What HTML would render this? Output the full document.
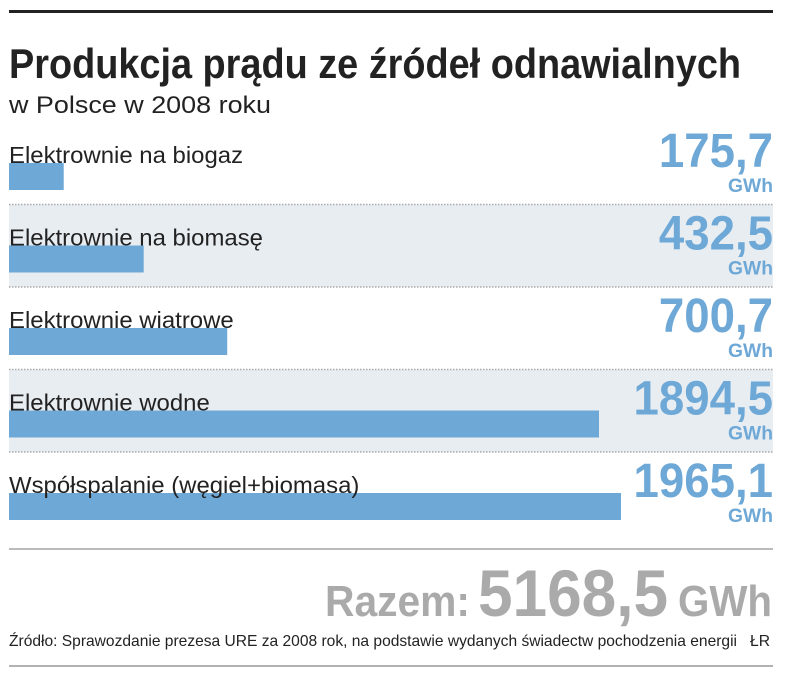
<!DOCTYPE html>
<html><head><meta charset="utf-8"><style>
html,body{margin:0;padding:0;background:#fff;width:805px;height:691px;overflow:hidden}
svg{display:block}
text{font-family:"Liberation Sans Narrow","Liberation Sans",sans-serif}
</style></head><body>
<svg id="chart" width="805" height="691" viewBox="0 0 805 691">
<rect x="9" y="10" width="764" height="3" fill="#222"/>
<text x="9" y="78" font-size="42" font-weight="bold" fill="#222" textLength="732" lengthAdjust="spacingAndGlyphs">Produkcja prądu ze źródeł odnawialnych</text>
<text x="9" y="113" font-size="24" fill="#222" textLength="262" lengthAdjust="spacingAndGlyphs">w Polsce w 2008 roku</text>
<g id="rows"></g>
<line x1="9" y1="549" x2="773" y2="549" stroke="#bbb" stroke-width="2"/>
<g fill="#aaa" font-weight="bold">
<text x="325" y="616" font-size="44" textLength="145" lengthAdjust="spacingAndGlyphs">Razem:</text>
<text x="478" y="616" font-size="66" textLength="190" lengthAdjust="spacingAndGlyphs">5168,5</text>
<text x="678" y="616" font-size="44" textLength="94" lengthAdjust="spacingAndGlyphs">GWh</text>
</g>
<text x="9" y="646" font-size="16" fill="#222" textLength="728" lengthAdjust="spacingAndGlyphs">Źródło: Sprawozdanie prezesa URE za 2008 rok, na podstawie wydanych świadectw pochodzenia energii</text>
<text x="750" y="646" font-size="16" fill="#222" textLength="20" lengthAdjust="spacingAndGlyphs">ŁR</text>
<line x1="9" y1="666" x2="773" y2="666" stroke="#999" stroke-width="1.5"/>
</svg>
<script>
const categories = ["Elektrownie na biogaz","Elektrownie na biomasę","Elektrownie wiatrowe","Elektrownie wodne","Współspalanie (węgiel+biomasa)"];
const values = [175.7, 432.5, 700.7, 1894.5, 1965.1];
const valueLabels = ["175,7","432,5","700,7","1894,5","1965,1"];
const NS="http://www.w3.org/2000/svg";
const g=document.getElementById('rows');
const x0=9, pxPerUnit=612/1965.1;
const xScale=v=>v*pxPerUnit;
const rowTop=i=>122+i*82.5;
function mk(tag,attrs){const e=document.createElementNS(NS,tag);for(const k in attrs)e.setAttribute(k,attrs[k]);g.appendChild(e);return e;}
categories.forEach((c,i)=>{
  const t=rowTop(i);
  if(i%2===1){
    const bg=mk('rect',{x:9,y:t,width:764,height:82.5,fill:'#e8edf2'});
    
    
  }
  if(i>0){
    const sep=mk('line',{x1:9,y1:t,x2:773,y2:t,stroke:'#aaa','stroke-width':1.5,'stroke-dasharray':'1.5,1.5'});
    
    
  }
  const bar=mk('rect',{x:x0,y:t+41,width:xScale(values[i]),height:27,fill:'#6ea8d6'});
  
  
  const lab=mk('text',{x:9,y:t+41,'font-size':23,fill:'#222'});
  lab.textContent=c;
  
  
  const lw=lab.getComputedTextLength()*1.04;
  lab.setAttribute('textLength',lw);
  lab.setAttribute('lengthAdjust','spacingAndGlyphs');
  const val=mk('text',{x:773,y:t+45,'text-anchor':'end','font-size':48,'font-weight':'bold',fill:'#6ea8d6'});
  val.textContent=valueLabels[i];
  
  
  const vw=val.getComputedTextLength()*0.95;
  val.setAttribute('textLength',vw);
  val.setAttribute('lengthAdjust','spacingAndGlyphs');
  const u=mk('text',{x:773,y:t+70,'text-anchor':'end','font-size':19,'font-weight':'bold',fill:'#6ea8d6'});
  u.textContent='GWh';
  u.setAttribute('textLength',45);
  u.setAttribute('lengthAdjust','spacingAndGlyphs');
  
  
});
</script>
</body></html>
